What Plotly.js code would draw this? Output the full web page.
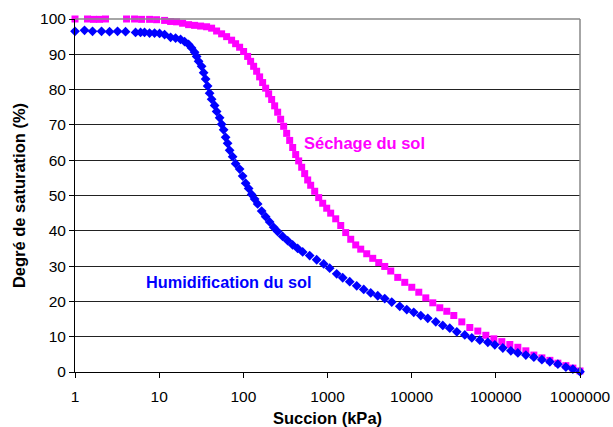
<!DOCTYPE html>
<html>
<head>
<meta charset="utf-8">
<script src="https://cdn.plot.ly/plotly-3.0.1.min.js"></script>
<style>html,body{margin:0;padding:0;background:#fff;}#chart{width:613px;height:427px;}</style>
</head>
<body>
<div id="chart"></div>
<script>
// Séchage du sol (drying) — suction kPa / saturation %
const sechageX = [1, 1.195, 1.408, 1.660, 1.956, 2.305, 2.792, 3.382, 4.097, 5.100,
  6.177, 7.690, 9.314, 11.60, 13.67, 16.10, 18.98, 22.37, 26.36, 31.07,
  36.61, 42.00, 48.15, 55.21, 63.31, 72.59, 81.00, 90.37, 100.8, 112.5,
  122.1, 132.6, 143.9, 156.2, 169.6, 184.2, 199.9, 217.0, 235.6, 255.8,
  277.6, 301.5, 327.3, 355.3, 385.7, 418.8, 454.7, 493.4, 535.7, 581.6,
  631.2, 704.5, 786.2, 876.8, 978.3, 1091, 1252, 1436, 1646, 1888,
  2164, 2482, 2925, 3447, 4062, 4788, 5643, 6834, 8279, 10030,
  12150, 14720, 17820, 21590, 26150, 31670, 39420, 49080, 61090, 76050,
  94670, 117800, 146700, 182600, 227300, 283000, 352400, 438600, 546000, 679600,
  823100, 1000000];
const sechageY = [100.0, 100.1, 100.0, 99.9, 99.9, 100.0, 100.1, 100.1, 100.0, 100.0,
  99.9, 99.9, 99.8, 99.6, 99.3, 99.2, 98.8, 98.4, 98.2, 98.0,
  97.8, 97.4, 96.6, 95.8, 95.0, 94.0, 93.0, 92.0, 90.8, 89.4,
  88.0, 86.6, 85.2, 83.6, 82.0, 80.4, 78.8, 77.2, 75.4, 73.6,
  71.6, 69.6, 67.6, 65.6, 63.6, 61.6, 59.8, 58.0, 56.2, 54.4,
  52.9, 51.2, 49.4, 47.8, 46.4, 45.0, 43.4, 41.5, 39.5, 37.6,
  36.0, 34.8, 33.5, 32.2, 31.0, 29.9, 28.6, 26.8, 25.4, 24.0,
  22.6, 21.0, 19.6, 18.2, 17.2, 16.0, 14.2, 12.6, 11.6, 10.4,
  9.4, 8.6, 7.8, 7.0, 6.0, 4.8, 4.0, 3.3, 2.5, 1.8,
  1.1, 0.3];

// Humidification du sol (wetting)
const humidX = [1, 1.297, 1.615, 2.066, 2.572, 3.202, 3.986, 5.242, 6.009, 6.706,
  7.690, 8.817, 10.11, 11.60, 13.67, 15.67, 17.97, 20.05, 22.37, 24.28,
  26.36, 27.85, 29.41, 31.94, 33.73, 35.63, 37.63, 39.74, 42.00, 45.59,
  48.15, 52.27, 55.21, 58.32, 61.59, 65.05, 68.71, 74.61, 81.00, 90.37,
  98.10, 106.5, 115.6, 125.5, 136.2, 148.0, 165.1, 184.2, 205.5, 229.3,
  255.8, 293.4, 336.4, 385.7, 442.2, 507.2, 614.2, 743.9, 901.4, 1062,
  1286, 1516, 1837, 2225, 2695, 3264, 3954, 4788, 5800, 7219,
  8744, 10590, 12830, 15540, 19340, 23430, 28380, 34390, 42800, 51840,
  64530, 80340, 97300, 121100, 150800, 182600, 227300, 283000, 352400, 438600,
  546000, 679600, 823100, 1000000];
const humidY = [96.5, 96.8, 96.5, 96.5, 96.4, 96.5, 96.4, 96.2, 96.2, 96.2,
  96.0, 96.0, 95.9, 95.6, 94.8, 94.6, 94.2, 93.6, 92.8, 91.8,
  90.6, 89.4, 88.0, 86.6, 84.8, 83.0, 81.0, 79.0, 77.3, 75.5,
  73.8, 72.0, 70.2, 68.6, 66.5, 64.8, 62.8, 61.0, 59.0, 57.5,
  55.5, 53.5, 52.0, 50.3, 49.0, 47.6, 45.6, 44.0, 42.5, 41.0,
  39.8, 38.4, 37.2, 36.0, 35.0, 34.0, 33.0, 31.8, 30.6, 29.4,
  27.8, 26.7, 25.6, 24.4, 23.4, 22.4, 21.6, 20.8, 19.8, 18.6,
  17.7, 16.9, 16.0, 15.2, 14.2, 13.2, 12.4, 11.4, 10.5, 9.7,
  9.0, 8.4, 7.7, 6.8, 6.0, 5.4, 4.8, 4.2, 3.5, 2.9,
  2.2, 1.4, 0.8, 0.1];

const xTickVals = [1, 10, 100, 1000, 10000, 100000, 1000000];
const xTickText = ['1', '10', '100', '1000', '10000', '100000', '1000000'];
const yTickVals = [0, 10, 20, 30, 40, 50, 60, 70, 80, 90, 100];

const traces = [
  {x: sechageX, y: sechageY, mode: 'markers', type: 'scatter', name: 'Séchage du sol',
   marker: {symbol: 'square', size: 7, color: '#FF00FF'}, cliponaxis: false},
  {x: humidX, y: humidY, mode: 'markers', type: 'scatter', name: 'Humidification du sol',
   marker: {symbol: 'diamond', size: 7.5, color: '#0000FF'}, cliponaxis: false}
];

const layout = {
  width: 613, height: 427,
  margin: {l: 75, r: 33, t: 19, b: 55},
  paper_bgcolor: '#fff', plot_bgcolor: '#fff',
  showlegend: false,
  font: {family: 'Arial, Liberation Sans, sans-serif', color: '#000'},
  xaxis: {
    type: 'log', range: [0, 6], tickvals: xTickVals, ticktext: xTickText,
    ticks: 'outside', ticklen: 5, tickcolor: '#000', ticklabelstandoff: 5,
    showline: true, linecolor: '#000', linewidth: 1, mirror: false,
    showgrid: false, zeroline: false,
    tickfont: {size: 15.5, family: 'Arial, Liberation Sans, sans-serif'},
    title: {text: '<b>Succion (kPa)</b>', font: {size: 16.5}, standoff: 10}
  },
  yaxis: {
    range: [0, 100], tickvals: yTickVals,
    ticks: 'outside', ticklen: 5, tickcolor: '#000',
    showline: true, linecolor: '#000', linewidth: 1,
    showgrid: true, gridcolor: '#222', gridwidth: 1, zeroline: false,
    tickfont: {size: 15.5, family: 'Arial, Liberation Sans, sans-serif'},
    title: {text: '<b>Degré de saturation (%)</b>', font: {size: 16.5}, standoff: 10}
  },
  shapes: [
    {type: 'line', xref: 'paper', yref: 'paper', x0: 0, x1: 1, y0: 1, y1: 1, line: {color: '#888', width: 1.5}},
    {type: 'line', xref: 'paper', yref: 'paper', x0: 1, x1: 1, y0: 0, y1: 1, line: {color: '#888', width: 1.5}}
  ],
  annotations: [
    {x: Math.log10(493), y: 64.9, xref: 'x', yref: 'y', text: '<b>Séchage du sol</b>', showarrow: false,
     xanchor: 'left', font: {size: 16.5, color: '#FF00FF'}},
    {x: Math.log10(6.65), y: 25.4, xref: 'x', yref: 'y', text: '<b>Humidification du sol</b>', showarrow: false,
     xanchor: 'left', font: {size: 16.3, color: '#0000FF'}}
  ]
};

Plotly.newPlot('chart', traces, layout, {staticPlot: true, displayModeBar: false});
</script>
</body>
</html>
